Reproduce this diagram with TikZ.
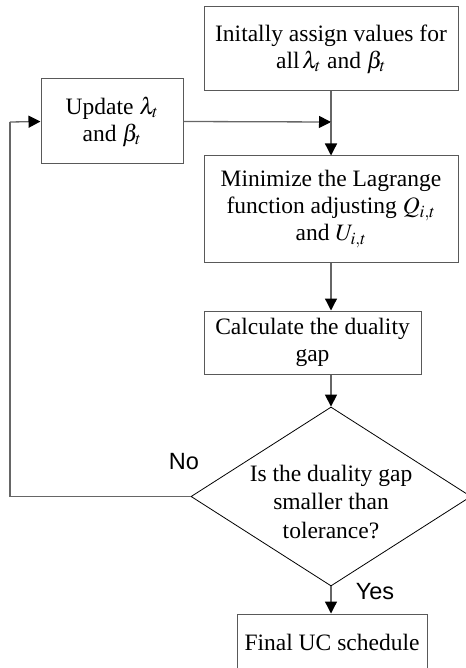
\documentclass[tikz,border=0pt]{standalone}
\usepackage{mathptmx}
\usepackage{fontspec}
\setmainfont{Liberation Serif}
\newfontfamily\labelfont{Liberation Sans}
\usetikzlibrary{arrows.meta,positioning,shapes.geometric}
\begin{document}
\begin{tikzpicture}[x=1pt,y=-1pt,
  box/.style={draw=black!65,line width=1pt,rectangle,inner sep=2pt,align=center,
    font=\fontsize{23.5}{27}\selectfont},
  conn/.style={draw=black!60,line width=1.3pt,-{Triangle[length=12pt,width=12pt,color=black]}},
  line/.style={draw=black!60,line width=1.3pt},
  lbl/.style={font=\labelfont\fontsize{23.5}{26}\selectfont,inner sep=0pt}]
\useasboundingbox (0,0) rectangle (465,668);
\node[box,minimum width=254pt,minimum height=84pt] (init) at (331,49) {Initally assign values for\\all$\,\lambda_t$ and $\beta_t$};
\node[box,minimum width=142pt,minimum height=85pt] (update) at (112,121.5) {Update $\lambda_t$\\and $\beta_t$};
\node[box,minimum width=254pt,minimum height=106pt] (minim) at (331,209) {Minimize the Lagrange\\function adjusting $Q_{i,t}$\\and $U_{i,t}$};
\node[box,minimum width=217pt,minimum height=63pt] (calc) at (312.5,342.5) {Calculate the duality\\gap};
\node[draw=black,line width=0.8pt,diamond,minimum width=280pt,minimum height=179pt,inner sep=0pt] (dec) at (331,496.5) {};
\node[align=center,font=\fontsize{23.5}{28.5}\selectfont] (dtext) at (331,502) {Is the duality gap\\smaller than\\tolerance?};
\node[box,minimum width=190pt,minimum height=56pt] (final) at (332,642) {Final UC schedule};
\coordinate (join) at (331,122);
\coordinate (lt) at (10,122);
\coordinate (lb) at (10,496.5);
\node[lbl] (no) at (184,462) {No};
\node[lbl] (yes) at (375,592) {Yes};
\draw[line] (init.south) -- (join);
\draw[conn] (update.east) -- (join);
\draw[conn] (join) -- (minim.north);
\draw[conn] (minim.south) -- (minim.south |- calc.north);
\draw[conn] (dec.north |- calc.south) -- (dec.north);
\draw[line] (dec.west) -- (lb) -- (lt);
\draw[conn] (lt) -- (update.west);
\draw[conn] (dec.south) -- (dec.south |- final.north);
\end{tikzpicture}
\end{document}
